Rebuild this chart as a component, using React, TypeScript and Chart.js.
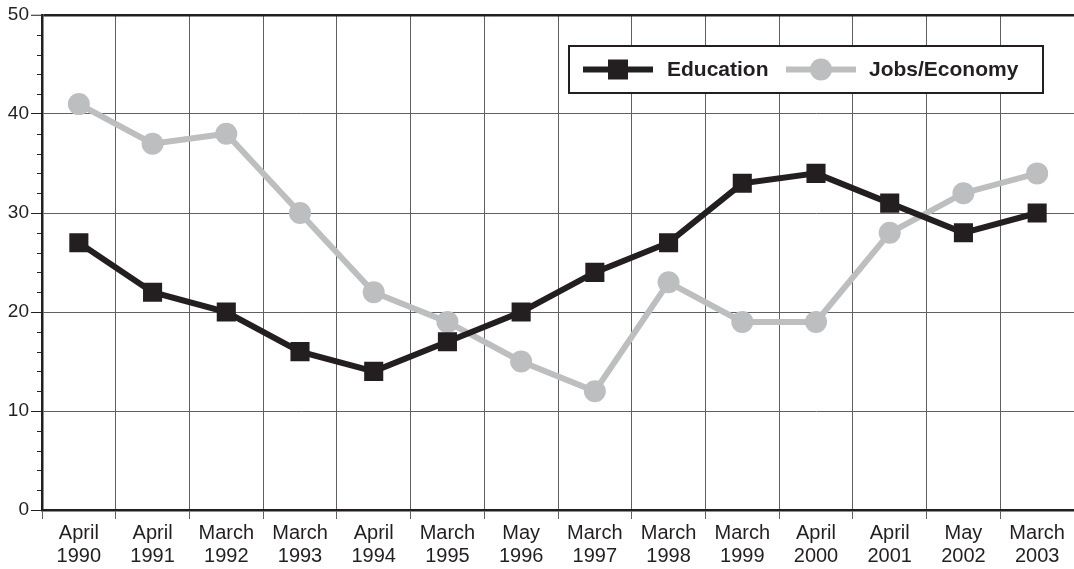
import React, { useEffect, useRef } from "react";
import { Chart, registerables } from "chart.js";

Chart.register(...registerables);

const months = ["April", "April", "March", "March", "April", "March", "May", "March", "March", "March", "April", "April", "May", "March"];
const years = ["1990", "1991", "1992", "1993", "1994", "1995", "1996", "1997", "1998", "1999", "2000", "2001", "2002", "2003"];
const educationValues = [27, 22, 20, 16, 14, 17, 20, 24, 27, 33, 34, 31, 28, 30];
const jobsValues = [41, 37, 38, 30, 22, 19, 15, 12, 23, 19, 19, 28, 32, 34];
const seriesNames = ["Education", "Jobs/Economy"];
const yMin = 0;
const yMax = 50;
const yMajorStep = 10;
const yMinorStep = 2;

const FONT = "'Liberation Sans', Arial, Helvetica, sans-serif";
const DARK = "#231f20";
const GRAY = "#bcbec0";
const GRID = "#5f6062";

const minorTicksPlugin = {
  id: "minorTicks",
  afterDraw(chart: any) {
    const ctx = chart.ctx;
    const y = chart.scales.y;
    const left = chart.chartArea.left;
    ctx.save();
    ctx.strokeStyle = DARK;
    ctx.lineWidth = 1;
    for (let v = yMin; v <= yMax; v += yMinorStep) {
      if (v % yMajorStep === 0) continue;
      const py = Math.round(y.getPixelForValue(v)) + 0.5;
      ctx.beginPath();
      ctx.moveTo(left - 5, py);
      ctx.lineTo(left, py);
      ctx.stroke();
    }
    ctx.restore();
  },
};

const legendPlugin = {
  id: "boxLegend",
  afterDraw(chart: any) {
    const ctx = chart.ctx;
    const a = chart.chartArea;
    const x0 = a.right - 505;
    const y0 = a.top + 31;
    const w = 474;
    const h = 47;
    const cy = y0 + h / 2;
    ctx.save();
    ctx.fillStyle = "#ffffff";
    ctx.fillRect(x0, y0, w, h);
    ctx.strokeStyle = DARK;
    ctx.lineWidth = 2;
    ctx.strokeRect(x0, y0, w, h);
    const items = [
      { sx: x0 + 14, tx: x0 + 98 },
      { sx: x0 + 217, tx: x0 + 300 },
    ];
    chart.data.datasets.forEach((ds: any, i: number) => {
      const it = items[i];
      ctx.strokeStyle = ds.borderColor;
      ctx.lineWidth = 6;
      ctx.beginPath();
      ctx.moveTo(it.sx, cy);
      ctx.lineTo(it.sx + 70, cy);
      ctx.stroke();
      ctx.fillStyle = ds.pointBackgroundColor;
      const mx = it.sx + 35;
      if (ds.pointStyle === "rect") {
        ctx.fillRect(mx - 10, cy - 10, 20, 20);
      } else {
        ctx.beginPath();
        ctx.arc(mx, cy, 11, 0, Math.PI * 2);
        ctx.fill();
      }
      ctx.fillStyle = DARK;
      ctx.font = `bold 21px ${FONT}`;
      ctx.textBaseline = "middle";
      ctx.textAlign = "left";
      ctx.fillText(ds.label, it.tx, cy + 1);
    });
    ctx.restore();
  },
};

export default function App() {
  const ref = useRef<HTMLCanvasElement | null>(null);
  useEffect(() => {
    if (!ref.current) return;
    const labels = months.map((m, i) => [m, years[i]]);
    const chart = new Chart(ref.current, {
      type: "line",
      data: {
        labels,
        datasets: [
          {
            label: seriesNames[0],
            data: educationValues,
            borderColor: DARK,
            backgroundColor: DARK,
            pointBackgroundColor: DARK,
            pointBorderWidth: 0,
            pointStyle: "rect",
            pointRadius: 13.5,
            borderWidth: 6,
            tension: 0,
          } as any,
          {
            label: seriesNames[1],
            data: jobsValues,
            borderColor: GRAY,
            backgroundColor: GRAY,
            pointBackgroundColor: GRAY,
            pointBorderWidth: 0,
            pointStyle: "circle",
            pointRadius: 11,
            borderWidth: 6,
            tension: 0,
          } as any,
        ],
      },
      options: {
        responsive: false,
        animation: false,
        layout: { autoPadding: false, padding: { top: 15, right: 0, left: 0, bottom: 0 } },
        plugins: { legend: { display: false }, tooltip: { enabled: false } },
        scales: {
          x: {
            offset: true,
            grid: {
              offset: true,
              color: GRID,
              lineWidth: 1,
              tickLength: 9,
              tickColor: GRID,
            },
            border: { display: true, color: DARK, width: 2.5 },
            ticks: {
              color: DARK,
              font: { family: FONT, size: 20, lineHeight: 1.15 },
              padding: 3,
              maxRotation: 0,
              autoSkip: false,
            },
            afterFit(scale: any) {
              scale.height = 59;
              scale.paddingLeft = 0;
              scale.paddingRight = 0;
            },
          },
          y: {
            min: yMin,
            max: yMax,
            grid: {
              color: (c: any) => (c.tick && c.tick.value === yMax ? DARK : GRID),
              lineWidth: (c: any) => (c.tick && c.tick.value === yMax ? 2.5 : 1),
              tickLength: 11,
              tickColor: DARK,
              tickWidth: 1,
            },
            border: { display: true, color: DARK, width: 2.5 },
            ticks: {
              stepSize: yMajorStep,
              color: DARK,
              font: { family: FONT, size: 19 },
              padding: 2,
            },
            afterFit(scale: any) {
              scale.width = 42;
            },
          },
        },
      },
      plugins: [minorTicksPlugin, legendPlugin],
    });
    return () => chart.destroy();
  }, []);
  return (
    <div style={{ position: "fixed", left: 0, top: 0, width: 1074, height: 569, background: "#fff" }}>
      <canvas ref={ref} width={1074} height={569} style={{ display: "block" }} />
    </div>
  );
}
